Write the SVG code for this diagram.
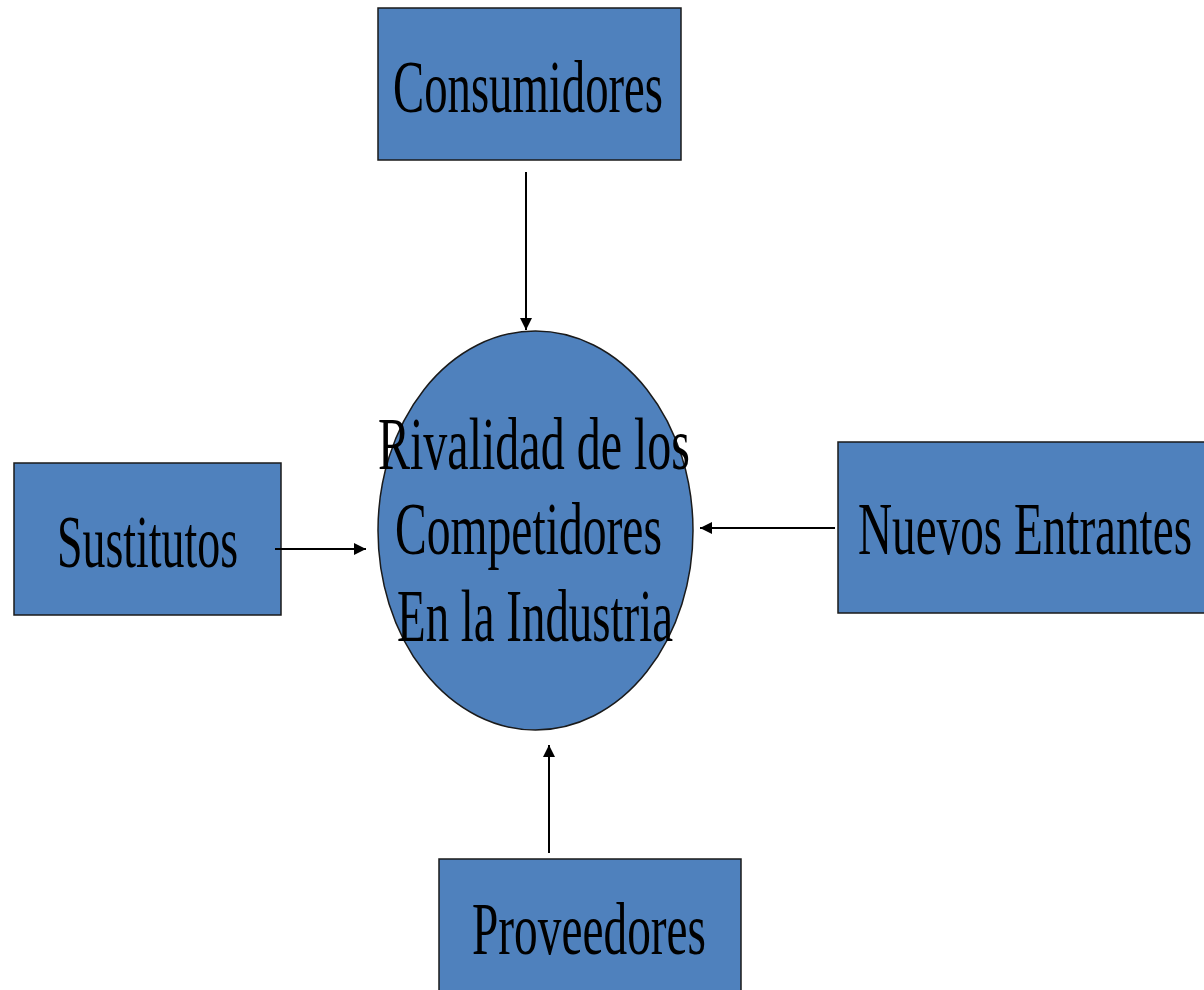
<svg xmlns="http://www.w3.org/2000/svg" width="1204" height="990" viewBox="0 0 1204 990">
<style>
.box{fill:#4F81BD;stroke:#1a1a1a;stroke-width:1.5}
.t{font-family:"Liberation Serif","Times New Roman",serif;font-size:74px;fill:#000}
.c{stroke:#000;stroke-width:2;fill:none;marker-end:url(#ah)}
</style>
<defs>
<marker id="ah" viewBox="0 0 10 10" refX="10" refY="5" markerWidth="6" markerHeight="6" orient="auto" markerUnits="strokeWidth">
<path d="M0,0 L10,5 L0,10 z" fill="#000"/>
</marker>
</defs>
<rect width="1204" height="990" fill="#fff"/>
<g id="consumidores">
<rect class="box" x="378" y="8" width="303" height="152"/>
<text class="t" x="393" y="112" textLength="270" lengthAdjust="spacingAndGlyphs">Consumidores</text>
</g>
<g id="rivalidad">
<ellipse class="box" cx="535.5" cy="530.5" rx="157.5" ry="199.5"/>
<text class="t" x="378" y="469" textLength="312" lengthAdjust="spacingAndGlyphs">Rivalidad de los</text>
<text class="t" x="395" y="554" textLength="267" lengthAdjust="spacingAndGlyphs">Competidores</text>
<text class="t" x="397" y="641" textLength="276" lengthAdjust="spacingAndGlyphs">En la Industria</text>
</g>
<g id="sustitutos">
<rect class="box" x="14" y="463" width="267" height="152"/>
<text class="t" x="57" y="567" textLength="181" lengthAdjust="spacingAndGlyphs">Sustitutos</text>
</g>
<g id="nuevos">
<rect class="box" x="838" y="442" width="372" height="171"/>
<text class="t" x="858" y="554" textLength="334" lengthAdjust="spacingAndGlyphs">Nuevos Entrantes</text>
</g>
<g id="proveedores">
<rect class="box" x="439" y="859" width="302" height="140"/>
<text class="t" x="472" y="954" textLength="234" lengthAdjust="spacingAndGlyphs">Proveedores</text>
</g>
<g id="connectors">
<line class="c" x1="526" y1="172" x2="526" y2="330"/>
<line class="c" x1="275" y1="549" x2="366" y2="549"/>
<line class="c" x1="835" y1="528" x2="700" y2="528"/>
<line class="c" x1="549" y1="853" x2="549" y2="745"/>
</g>
</svg>
